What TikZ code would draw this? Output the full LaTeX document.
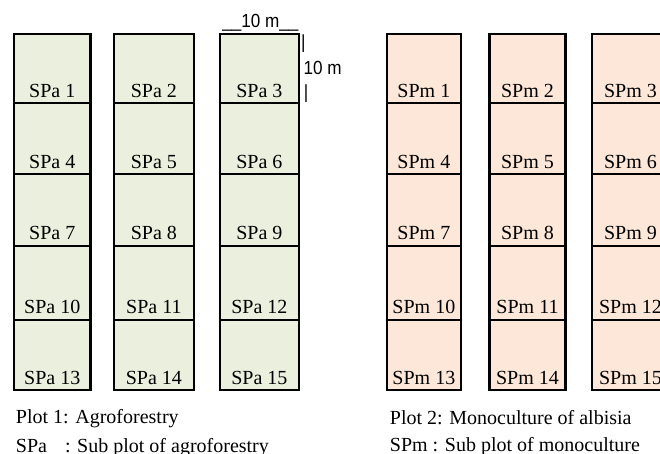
\documentclass[tikz,border=0pt]{standalone}
\usepackage{fontspec}
\setmainfont{Liberation Serif}
\newfontfamily\arialfont{Liberation Sans}
\definecolor{agrofill}{HTML}{EBEFDD}
\definecolor{monofill}{HTML}{FCE7D8}
\begin{document}
\begin{tikzpicture}[x=1bp,y=-1bp,
  cellbox/.style={draw=black, line width=2.2bp},
  agro/.style={cellbox, fill=agrofill},
  mono/.style={cellbox, fill=monofill},
  celltext/.style={font=\fontsize{20bp}{24bp}\selectfont, inner sep=0pt, anchor=base},
  captext/.style={font=\fontsize{20bp}{24bp}\selectfont, inner sep=0pt, anchor=base west},
  dimtext/.style={font=\arialfont\fontsize{19bp}{23bp}\selectfont, inner sep=0pt, transform shape, xscale=0.9},
]
\clip (0,0) rectangle (660,454);

% Plot 1: agroforestry sub plots
\foreach \yt/\yb [count=\r] in {33.7/103.3, 103.3/174.2, 174.2/245.8, 245.8/319.7, 319.7/390.2}{
  \foreach \xl/\xr [count=\c] in {14/90.5, 113.7/194, 220/298.7}{
    \pgfmathtruncatemacro\n{(\r-1)*3+\c}
    \draw[agro] (\xl,\yt) rectangle (\xr,\yb);
    \node[celltext] (spa\n) at ({(\xl+\xr)/2},\yb-6) {SPa \n};
  }
}

% Plot 2: monoculture sub plots
\foreach \yt/\yb [count=\r] in {33.7/103.3, 103.3/174.2, 174.2/245.8, 245.8/319.7, 319.7/390.2}{
  \foreach \xl/\xr [count=\c] in {386.7/461, 489.5/565.5, 592/669}{
    \pgfmathtruncatemacro\n{(\r-1)*3+\c}
    \draw[mono] (\xl,\yt) rectangle (\xr,\yb);
    \node[celltext] (spm\n) at ({(\xl+\xr)/2},\yb-6) {SPm \n};
  }
}

% sub plot dimensions
\node[dimtext, anchor=base] (dimw) at (260.5,27.5) {\_\_10 m\_\_};
\node[dimtext, anchor=center] (barup) at (303.3,43.3) {|};
\node[dimtext, anchor=base west] (dimh) at (303.5,75) {10 m};
\node[dimtext, anchor=center] (barlow) at (306,93.3) {|};

% captions and keys
\node[captext] (cap1) at (15.7,423.3) {Plot 1: Agroforestry};
\node[captext] (key1) at (15.7,452.7) {SPa\hspace{18bp}: Sub plot of agroforestry};
\node[captext] (cap2) at (389.7,424) {Plot 2: Monoculture of albisia};
\node[captext] (key2) at (389.7,451.7) {SPm : Sub plot of monoculture};
\end{tikzpicture}
\end{document}
